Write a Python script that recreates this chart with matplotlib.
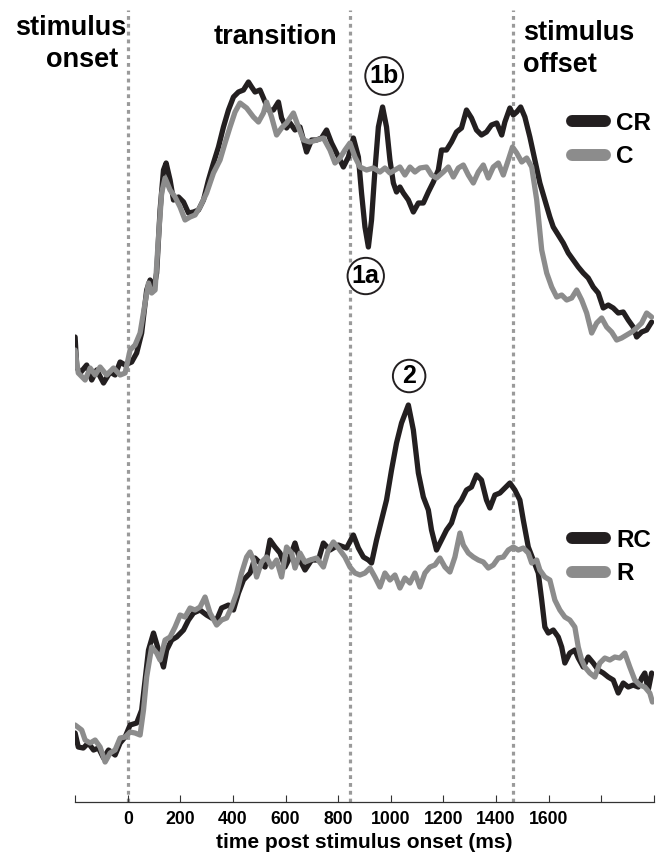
import matplotlib
matplotlib.use("Agg")
import matplotlib.pyplot as plt
from matplotlib.lines import Line2D
import numpy as np

plt.rcParams["font.family"] = ["Liberation Sans", "DejaVu Sans"]
plt.rcParams["font.weight"] = "bold"

# --- data (time in ms, response in arbitrary units) ---
t_cr = [-200, -194, -181, -156, -137, -118, -92, -67, -48, -29, -10, 15, 34, 53, 72, 85, 98, 110,
        123, 136, 146, 161, 174, 193, 212, 231, 250, 269, 288, 307, 326, 345, 364, 383, 402, 421,
        440, 459, 471, 484, 503, 516, 535, 554, 573, 585, 604, 617, 636, 655, 680, 699, 718, 737,
        756, 775, 794, 820, 839, 858, 877, 889, 902, 915, 927, 940, 953, 969, 984, 997, 1010, 1022,
        1035, 1048, 1067, 1086, 1105, 1124, 1143, 1162, 1181, 1193, 1212, 1231, 1250, 1269, 1288,
        1307, 1326, 1345, 1364, 1383, 1403, 1422, 1434, 1453, 1466, 1479, 1494, 1510, 1529, 1548,
        1567, 1586, 1605, 1618, 1637, 1656, 1675, 1694, 1713, 1732, 1751, 1770, 1789, 1808, 1827,
        1846, 1865, 1884, 1903, 1922, 1935, 1954, 1973, 1992]
cr = [3.5, 0.5, -0.1, 0.7, -0.8, 0.2, -1.1, 0.0, -0.3, 1.0, 0.7, 1.0, 1.9, 3.9, 8.2, 9.2, 8.2, 9.9,
      16.2, 20.2, 20.9, 19.2, 17.2, 17.5, 17.0, 15.9, 16.0, 16.2, 17.2, 19.2, 20.9, 22.5, 24.5, 26.2,
      27.5, 28.0, 28.2, 29.0, 28.5, 28.0, 28.2, 27.4, 26.2, 26.2, 27.0, 25.4, 24.4, 24.9, 24.2, 24.5,
      22.0, 23.2, 23.2, 23.4, 24.2, 22.9, 21.9, 20.5, 21.5, 23.4, 21.5, 17.9, 14.5, 12.5, 15.2, 20.2,
      24.5, 26.5, 24.5, 21.2, 18.9, 18.0, 18.5, 17.9, 17.2, 16.0, 16.9, 16.9, 18.0, 19.0, 20.2, 22.2,
      22.2, 23.0, 24.0, 24.4, 26.2, 25.4, 24.2, 23.7, 24.0, 24.7, 24.9, 23.7, 25.0, 26.4, 25.7, 26.0,
      26.5, 25.5, 23.5, 21.2, 18.9, 17.2, 15.5, 14.5, 13.7, 12.9, 11.9, 11.2, 10.5, 9.9, 9.4, 8.5,
      7.9, 6.4, 6.7, 6.4, 5.9, 6.0, 5.2, 4.5, 3.5, 4.0, 4.2, 5.0]

t_c = [-200, -188, -162, -143, -124, -105, -80, -54, -29, -10, 9, 28, 47, 66, 79, 91, 104, 117, 129,
       142, 161, 180, 199, 218, 237, 256, 275, 300, 326, 351, 370, 389, 408, 427, 452, 478, 497, 516,
       528, 547, 566, 585, 604, 630, 649, 668, 693, 718, 744, 769, 788, 807, 826, 845, 864, 883, 908,
       934, 959, 978, 997, 1016, 1035, 1054, 1073, 1092, 1111, 1136, 1155, 1174, 1200, 1219, 1238,
       1257, 1276, 1295, 1314, 1333, 1352, 1371, 1390, 1409, 1428, 1447, 1463, 1479, 1498, 1517,
       1536, 1555, 1574, 1593, 1612, 1631, 1650, 1669, 1688, 1707, 1726, 1745, 1764, 1783, 1802,
       1821, 1840, 1859, 1878, 1897, 1916, 1935, 1954, 1973, 1992]
c = [2.2, -0.1, -0.8, 0.4, -0.3, 0.5, -0.3, 0.4, -0.3, -0.1, 2.2, 2.7, 3.9, 6.9, 8.9, 7.9, 8.2, 13.5,
     17.9, 19.4, 18.2, 17.5, 16.5, 15.2, 15.5, 15.7, 16.5, 17.9, 19.9, 21.2, 22.9, 24.5, 26.0, 26.9,
     26.4, 25.5, 25.0, 25.9, 27.0, 25.5, 23.7, 24.4, 24.9, 25.9, 24.5, 23.2, 23.0, 23.2, 23.4, 22.2,
     20.9, 21.4, 22.2, 22.9, 21.5, 20.5, 20.2, 20.4, 20.0, 20.4, 19.9, 20.2, 20.5, 19.7, 20.5, 20.0,
     20.4, 20.5, 19.7, 19.4, 20.0, 20.5, 19.5, 20.4, 20.7, 19.7, 18.9, 20.0, 20.7, 19.4, 20.5, 20.9,
     19.7, 21.2, 22.5, 21.9, 21.0, 21.4, 20.5, 17.2, 12.2, 9.9, 8.5, 7.5, 7.7, 7.2, 7.4, 8.2, 7.2, 5.9,
     3.9, 4.9, 5.4, 4.5, 4.0, 3.2, 3.4, 3.7, 4.0, 4.4, 4.9, 5.9, 5.5]

t_rc = [-200, -188, -169, -150, -130, -111, -92, -73, -48, -29, -10, 9, 34, 53, 66, 79, 98, 117, 136,
        148, 167, 186, 212, 231, 250, 275, 300, 319, 338, 357, 383, 402, 421, 440, 465, 484, 503, 522,
        541, 560, 579, 598, 617, 636, 655, 674, 699, 725, 744, 769, 801, 832, 858, 877, 896, 915, 927,
        946, 965, 984, 1003, 1022, 1041, 1067, 1086, 1105, 1124, 1143, 1155, 1174, 1193, 1212, 1231,
        1250, 1269, 1288, 1307, 1326, 1345, 1364, 1377, 1396, 1415, 1434, 1453, 1472, 1491, 1504,
        1523, 1542, 1561, 1574, 1586, 1599, 1618, 1637, 1650, 1662, 1681, 1700, 1713, 1732, 1751,
        1770, 1789, 1808, 1827, 1846, 1865, 1884, 1903, 1922, 1941, 1954, 1966, 1979, 1992]
rc = [1.0, -0.4, -0.5, 0.0, -0.7, -0.5, -1.5, -0.7, -1.2, 0.0, 0.6, 1.8, 2.0, 3.3, 6.3, 9.3, 11.0, 9.3,
      7.6, 9.3, 10.3, 10.6, 11.3, 12.3, 13.0, 13.3, 12.8, 12.5, 12.3, 13.5, 13.8, 13.3, 15.0, 16.3,
      17.0, 18.5, 18.0, 17.6, 20.3, 19.6, 19.0, 17.6, 18.6, 20.0, 18.3, 17.3, 18.3, 18.3, 20.0, 19.3,
      19.8, 19.5, 20.8, 19.5, 18.6, 18.3, 18.0, 20.3, 22.3, 24.3, 27.3, 30.0, 32.0, 33.8, 31.3, 27.0,
      24.6, 23.3, 21.3, 19.3, 20.3, 21.3, 22.0, 23.6, 24.3, 25.3, 25.6, 26.8, 26.3, 24.3, 23.5, 24.8,
      25.0, 25.5, 26.0, 25.3, 24.3, 22.3, 19.6, 18.3, 17.0, 14.3, 11.6, 11.0, 11.3, 10.6, 9.6, 8.0,
      9.0, 9.3, 8.5, 7.6, 8.6, 8.0, 7.3, 7.0, 6.6, 6.3, 5.0, 6.0, 5.6, 5.8, 5.6, 6.5, 7.0, 5.3, 7.0]

t_r = [-200, -175, -162, -143, -124, -105, -86, -67, -48, -29, -10, 9, 28, 47, 60, 72, 91, 110, 123,
       142, 161, 180, 199, 218, 237, 256, 275, 294, 313, 338, 357, 376, 395, 414, 433, 452, 465, 478,
       490, 509, 528, 547, 566, 585, 604, 623, 636, 655, 674, 693, 718, 744, 763, 782, 801, 826, 845,
       864, 883, 902, 921, 940, 959, 978, 997, 1016, 1035, 1054, 1073, 1092, 1111, 1130, 1149, 1168,
       1187, 1206, 1225, 1244, 1263, 1276, 1295, 1314, 1333, 1352, 1371, 1390, 1409, 1428, 1447,
       1466, 1485, 1504, 1523, 1536, 1555, 1567, 1586, 1605, 1624, 1643, 1662, 1681, 1700, 1713,
       1726, 1738, 1757, 1776, 1795, 1814, 1833, 1852, 1871, 1890, 1909, 1928, 1947, 1966, 1985, 1995]
r = [1.8, 1.3, 0.3, 0.0, 0.3, -0.4, -1.9, -1.0, -0.7, 0.5, 0.6, 1.1, 1.0, 0.8, 3.3, 6.6, 9.6, 9.0, 8.3,
     10.3, 10.6, 11.6, 12.8, 12.6, 13.5, 13.3, 13.6, 14.6, 13.0, 11.8, 12.3, 12.5, 13.6, 15.0, 17.0,
     18.6, 19.1, 18.3, 16.6, 18.1, 18.6, 17.6, 18.3, 16.6, 19.6, 19.0, 17.5, 19.0, 18.1, 18.3, 18.5,
     17.6, 19.3, 20.1, 19.5, 18.6, 17.6, 17.0, 16.8, 17.0, 17.5, 16.6, 15.6, 17.0, 16.3, 16.8, 15.5,
     16.5, 16.0, 17.0, 15.6, 17.0, 17.6, 17.8, 18.5, 17.6, 17.1, 18.6, 21.0, 19.8, 19.0, 18.6, 18.3,
     18.1, 17.5, 17.8, 18.5, 18.6, 19.3, 19.6, 19.3, 19.5, 19.0, 18.0, 18.3, 17.3, 16.6, 16.3, 14.3,
     13.3, 12.6, 12.3, 11.6, 9.6, 8.3, 7.6, 7.0, 6.6, 8.0, 8.5, 8.3, 8.6, 8.5, 9.0, 7.6, 6.3, 5.8, 5.6,
     5.0, 4.1]

events_ms = [0, 845, 1465]
tick_ms = list(range(-200, 2001, 200))
tick_labels = [str(t) if 0 <= t <= 1600 else "" for t in tick_ms]

TOP_OFFSET = 37.1
BLACK = "#231f20"
GRAY = "#8c8c8c"
DOT = "#9a9a9a"


def main():
    fig = plt.figure(figsize=(6.66, 8.56), dpi=100)
    ax = fig.add_axes([0.1128, 0.0627, 0.8688, 0.9373])

    ax.vlines(events_ms, -5.93, 73.3, colors=DOT, linewidth=2.3,
              linestyles=(0, (1.2, 1.25)), zorder=1)

    lw = 3.8
    kw = dict(solid_joinstyle="round", solid_capstyle="round", zorder=3)
    ax.plot(t_cr, np.array(cr) + TOP_OFFSET, color=BLACK, lw=lw, **kw)
    ax.plot(t_c, np.array(c) + TOP_OFFSET, color=GRAY, lw=lw, **kw)
    ax.plot(t_rc, rc, color=BLACK, lw=lw, **kw)
    ax.plot(t_r, r, color=GRAY, lw=lw, **kw)

    ax.set_xlim(-200, 2000)
    ax.set_ylim(-5.93, 74.3)
    for s in ("top", "left", "right"):
        ax.spines[s].set_visible(False)
    ax.spines["bottom"].set_color("#333333")
    ax.spines["bottom"].set_linewidth(0.9)
    ax.set_yticks([])
    ax.set_xticks(tick_ms)
    ax.set_xticklabels(tick_labels, fontsize=12.7, fontweight="bold")
    ax.tick_params(axis="x", direction="in", length=5, width=0.8, color="#333333", pad=6)
    ax.set_xlabel("time post stimulus onset (ms)", fontsize=15, fontweight="bold", labelpad=4)

    hfs = 19.5
    ax.text(-6, 70.8, "stimulus", ha="right", va="baseline", fontsize=hfs, fontweight="bold")
    ax.text(-37, 67.6, "onset", ha="right", va="baseline", fontsize=hfs, fontweight="bold")
    ax.text(797, 69.9, "transition", ha="right", va="baseline", fontsize=hfs, fontweight="bold")
    ax.text(1502, 70.3, "stimulus", ha="left", va="baseline", fontsize=hfs, fontweight="bold")
    ax.text(1502, 67.1, "offset", ha="left", va="baseline", fontsize=hfs, fontweight="bold")

    circ = dict(boxstyle="circle,pad=0.17", fc="white", ec=BLACK, lw=1.4)
    for label, t, v in [("1b", 975, 66.7), ("1a", 905, 46.7), ("2", 1070, 36.7)]:
        ax.text(t, v, label, ha="center", va="center", fontsize=18, fontweight="bold",
                bbox=circ, zorder=5)

    def legend(labels, colors, y_px):
        handles = [Line2D([], [], color=col, lw=8.6, solid_capstyle="round") for col in colors]
        leg = ax.legend(handles, labels, loc="center left",
                        bbox_to_anchor=(572 / 666, 1 - y_px / 856),
                        bbox_transform=fig.transFigure, frameon=False,
                        handlelength=1.36, handletextpad=0.45, labelspacing=0.43,
                        borderpad=0, borderaxespad=0, prop={"weight": "bold", "size": 17.5})
        return leg

    leg1 = legend(["CR", "C"], [BLACK, GRAY], 140)
    ax.add_artist(leg1)
    legend(["RC", "R"], [BLACK, GRAY], 557)

    fig.savefig("out.png", dpi=100)
    plt.close(fig)


if __name__ == "__main__":
    main()
